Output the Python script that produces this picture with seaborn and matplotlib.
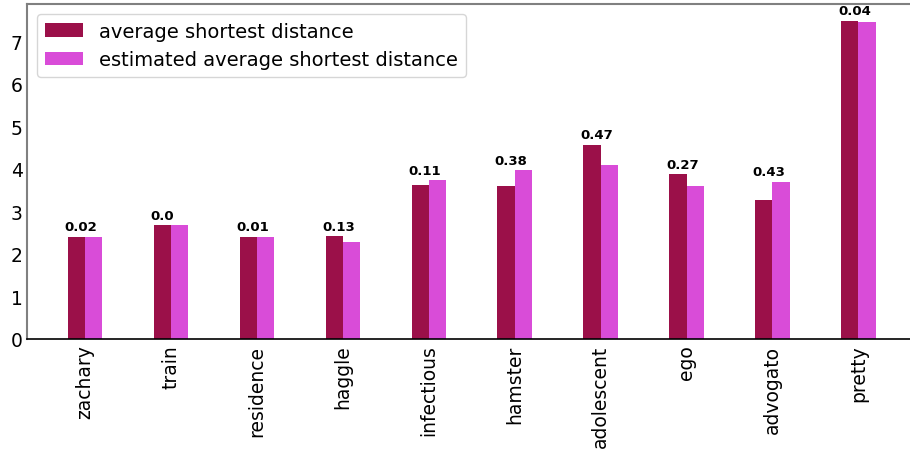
import matplotlib
matplotlib.use("Agg")
import matplotlib.pyplot as plt
import seaborn as sns
import pandas as pd

categories = ["zachary", "train", "residence", "haggle", "infectious",
              "hamster", "adolescent", "ego", "advogato", "pretty"]
avg_dist = [2.40, 2.68, 2.40, 2.42, 3.62, 3.59, 4.56, 3.87, 3.27, 7.48]
est_dist = [2.40, 2.68, 2.40, 2.29, 3.73, 3.97, 4.09, 3.60, 3.70, 7.44]
diff_labels = ["0.02", "0.0", "0.01", "0.13", "0.11",
               "0.38", "0.47", "0.27", "0.43", "0.04"]
series_names = ["average shortest distance", "estimated average shortest distance"]
colors = ["#9B1049", "#D94CD8"]

df = pd.DataFrame({
    "network": categories * 2,
    "value": avg_dist + est_dist,
    "series": [series_names[0]] * len(categories) + [series_names[1]] * len(categories),
})

plt.rcParams["font.family"] = ["DejaVu Sans"]

fig = plt.figure(figsize=(9.10, 4.52), dpi=100)
ax = fig.add_axes([27 / 910, (452 - 340) / 452, (910 - 27) / 910, (340 - 5) / 452])

sns.barplot(data=df, x="network", y="value", hue="series", hue_order=series_names,
            palette=colors, width=0.4, gap=0, saturation=1, ax=ax, errorbar=None,
            linewidth=0)

for i, lab in enumerate(diff_labels):
    top = max(avg_dist[i], est_dist[i])
    ax.text(i - 0.235, top + 0.08, lab, ha="left", va="bottom",
            fontsize=9.5, fontweight="bold", color="black")

ax.set_xlim(-0.674, 9.6)
ax.set_ylim(0, 7.87)
ax.set_yticks(range(0, 8))
ax.set_xlabel("")
ax.set_ylabel("")
ax.tick_params(axis="x", labelsize=13.5, rotation=90, length=0, pad=4, colors="black")
ax.tick_params(axis="y", labelsize=13.5, length=0, pad=3, colors="black")

for s in ["top", "left"]:
    ax.spines[s].set_color("#808080")
    ax.spines[s].set_linewidth(1.5)
ax.spines["bottom"].set_color("black")
ax.spines["bottom"].set_linewidth(1.2)
ax.spines["right"].set_visible(False)

leg = ax.legend(loc="upper left", fontsize=14, frameon=True)
for t in leg.get_texts():
    t.set_color("black")

fig.savefig("out.png", dpi=100)
